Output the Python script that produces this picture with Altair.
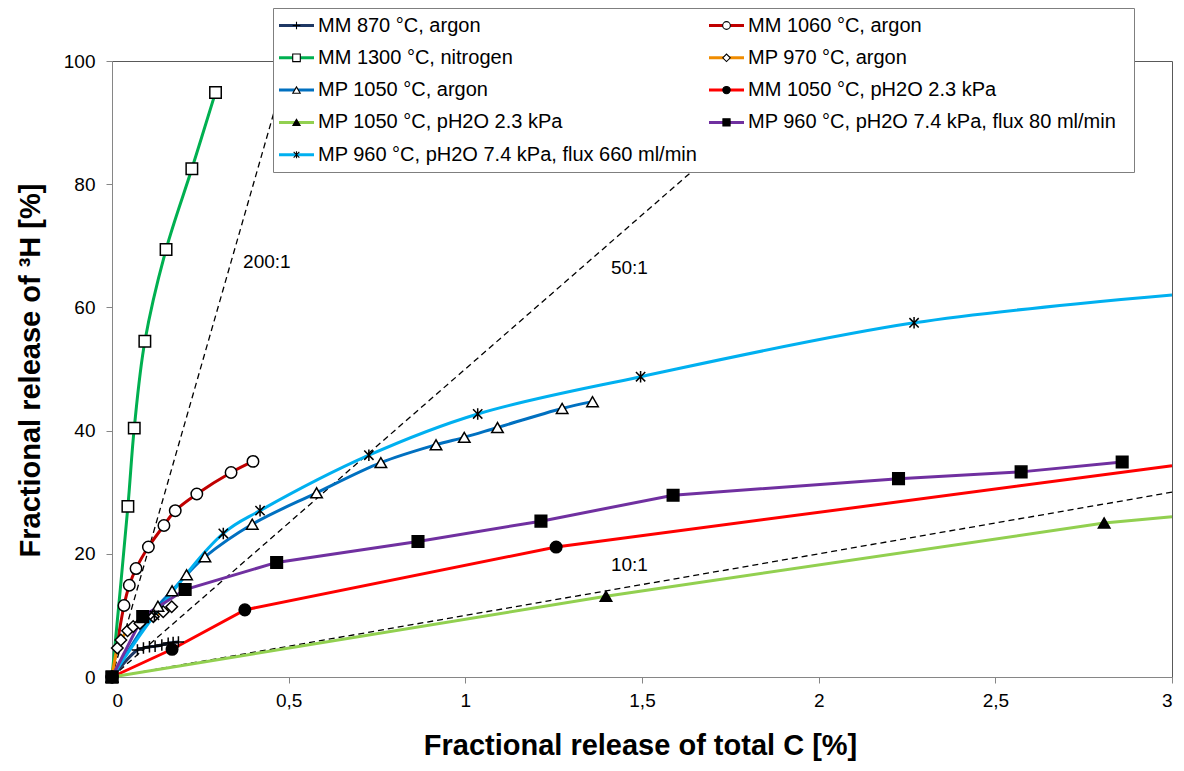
import altair as alt
import pandas as pd

# ---------------- data ----------------
series_names = [
    "MM 870 °C, argon",
    "MM 1060 °C, argon",
    "MM 1300 °C, nitrogen",
    "MP 970 °C, argon",
    "MP 1050 °C, argon",
    "MM 1050 °C, pH2O 2.3 kPa",
    "MP 1050 °C, pH2O 2.3 kPa",
    "MP 960 °C, pH2O 7.4 kPa, flux 80 ml/min",
    "MP 960 °C, pH2O 7.4 kPa, flux 660 ml/min",
]
series_colors = ["#1F3864", "#C00000", "#00B050", "#F08C00", "#0070C0",
                 "#FF0000", "#92D050", "#7030A0", "#00B0F0"]
# series drawn with straight segments (the others are smoothed)
straight_series = [5, 6, 7]

PLUS = "M-1,0H1M0,-1V1"
STAR = "M0,-1V1M-0.8,-0.8L0.8,0.8M-0.8,0.8L0.8,-0.8"
marker_shapes = [PLUS, "circle", "square", "diamond", "triangle-up",
                 "circle", "triangle-up", "square", STAR]
marker_fills = ["transparent", "white", "white", "white", "white",
                "black", "black", "black", "transparent"]
marker_sizes = [130, 135, 140, 95, 150, 170, 170, 180, 200]
legend_marker_sizes = [60, 50, 50, 40, 55, 60, 70, 65, 80]

mm870_x = [0, 0.072, 0.089, 0.106, 0.122, 0.141, 0.159, 0.173, 0.188]
mm870_y = [0, 4.4, 4.7, 4.9, 5.0, 5.2, 5.5, 5.6, 5.7]

mm1060_x = [0, 0.034, 0.049, 0.068, 0.103, 0.147, 0.179, 0.240, 0.337, 0.399]
mm1060_y = [0, 11.6, 14.9, 17.6, 21.1, 24.6, 27.0, 29.7, 33.2, 35.0]

mm1300_x = [0, 0.045, 0.063, 0.093, 0.153, 0.226, 0.293]
mm1300_y = [0, 27.7, 40.4, 54.5, 69.4, 82.5, 94.9]

mp970_x = [0, 0.015, 0.025, 0.044, 0.060, 0.079, 0.117, 0.145, 0.169]
mp970_y = [0, 4.7, 6.0, 7.5, 8.2, 8.7, 9.8, 10.6, 11.4]

mp1050_x = [0, 0.13, 0.17, 0.211, 0.263, 0.397, 0.579, 0.761, 0.917, 0.997,
            1.091, 1.274, 1.360]
mp1050_y = [0, 11.5, 14.0, 16.6, 19.5, 24.8, 29.9, 34.8, 37.7, 38.9,
            40.5, 43.6, 44.7]

mm1050w_x = [0, 0.170, 0.376, 1.257]
mm1050w_y = [0, 4.5, 10.9, 21.1]

mp1050w_x = [0, 1.398, 2.808]
mp1050w_y = [0, 13.1, 25.0]

mp960a_x = [0, 0.087, 0.207, 0.466, 0.866, 1.214, 1.588, 2.226, 2.573, 2.859]
mp960a_y = [0, 9.8, 14.2, 18.6, 22.0, 25.3, 29.5, 32.2, 33.3, 34.9]

mp960b_x = [0, 0.12, 0.315, 0.419, 0.727, 1.035, 1.496, 2.270]
mp960b_y = [0, 10.0, 23.3, 27.0, 36.0, 42.7, 48.75, 57.5]

series_x = [mm870_x, mm1060_x, mm1300_x, mp970_x, mp1050_x,
            mm1050w_x, mp1050w_x, mp960a_x, mp960b_x]
series_y = [mm870_y, mm1060_y, mm1300_y, mp970_y, mp1050_y,
            mm1050w_y, mp1050w_y, mp960a_y, mp960b_y]

# where three lines leave the plot at its right border (no marker there)
line_end_series = [5, 6, 8]
line_end_x = [3.0, 3.0, 3.0]
line_end_y = [34.3, 26.0, 62.0]

# dashed ratio guide lines
ratio_labels = ["200:1", "50:1", "10:1"]
ratio_end_x = [0.5, 2.0, 3.0]
ratio_end_y = [100, 100, 30]
ratio_label_x = [0.371, 1.412, 1.412]
ratio_label_y = [67.4, 66.4, 18.2]

x_ticks = [0, 0.5, 1, 1.5, 2, 2.5, 3]
y_ticks = [0, 20, 40, 60, 80, 100]

# ---------------- tables ----------------
pt_rows = []
for i, name in enumerate(series_names):
    for j, (xv, yv) in enumerate(zip(series_x[i], series_y[i])):
        pt_rows.append({"series": name, "x": xv, "y": yv, "k": j,
                        "straight": i in straight_series})
points_df = pd.DataFrame(pt_rows)

line_rows = list(pt_rows)
for s, xv, yv in zip(line_end_series, line_end_x, line_end_y):
    line_rows.append({"series": series_names[s], "x": xv, "y": yv, "k": 99,
                      "straight": s in straight_series})
lines_df = pd.DataFrame(line_rows)

ratio_rows = []
for lab, ex, ey in zip(ratio_labels, ratio_end_x, ratio_end_y):
    ratio_rows.append({"ratio": lab, "x": 0.0, "y": 0.0})
    ratio_rows.append({"ratio": lab, "x": ex, "y": ey})
ratio_df = pd.DataFrame(ratio_rows)
ratio_text_df = pd.DataFrame({"label": ratio_labels, "x": ratio_label_x,
                              "y": ratio_label_y})

legend_df = pd.DataFrame({
    "series": series_names,
    "idx": list(range(len(series_names))),
})

FONT = "Liberation Sans"

color_scale = alt.Scale(domain=series_names, range=series_colors)
shape_scale = alt.Scale(domain=series_names, range=marker_shapes)
fill_scale = alt.Scale(domain=series_names, range=marker_fills)
size_scale = alt.Scale(domain=series_names, range=marker_sizes)
lsize_scale = alt.Scale(domain=series_names, range=legend_marker_sizes)

xs = alt.Scale(domain=[0, 3], nice=False, zero=False)
ys = alt.Scale(domain=[0, 100], nice=False, zero=False)

x_axis = alt.Axis(
    values=x_ticks, labelExpr="replace(toString(datum.value), '.', ',')",
    title="Fractional release of total C [%]", grid=False,
    titleX=528, titleY=68, titleBaseline="middle", titleAlign="center")
y_axis = alt.Axis(
    values=y_ticks, title="Fractional release of ³H [%]", grid=False,
    titleX=-82, titleY=309, titleAngle=-90, titleBaseline="middle",
    titleAlign="center", labelPadding=11)
x_enc = alt.X("x:Q", scale=xs, axis=x_axis)
y_enc = alt.Y("y:Q", scale=ys, axis=y_axis)

ratio_lines = alt.Chart(ratio_df).mark_line(
    color="black", strokeWidth=1.3, strokeDash=[6, 4]
).encode(x=x_enc, y=y_enc, detail="ratio:N")

ratio_text = alt.Chart(ratio_text_df).mark_text(
    align="left", baseline="middle", fontSize=19, font=FONT, color="black"
).encode(x=x_enc, y=y_enc, text="label:N")

line_enc = dict(
    x=x_enc, y=y_enc,
    color=alt.Color("series:N", scale=color_scale, legend=None),
    detail="series:N",
    order="k:Q",
)
lines_smooth = alt.Chart(lines_df).transform_filter(
    "!datum.straight").mark_line(
    strokeWidth=3, interpolate="catmull-rom").encode(**line_enc)
lines_straight = alt.Chart(lines_df).transform_filter(
    "datum.straight").mark_line(
    strokeWidth=3, interpolate="linear").encode(**line_enc)

markers = alt.Chart(points_df).mark_point(
    filled=True, stroke="black", strokeWidth=1.5, opacity=1
).encode(
    x=x_enc, y=y_enc,
    shape=alt.Shape("series:N", scale=shape_scale, legend=None),
    fill=alt.Fill("series:N", scale=fill_scale, legend=None),
    size=alt.Size("series:N", scale=size_scale, legend=None),
)

main = alt.layer(ratio_lines, lines_smooth, lines_straight, markers, ratio_text)

# ---------------- legend (drawn in a pixel space of its own) ----------------
lxs = alt.Scale(domain=[0, 1060], nice=False, zero=False)
lys = alt.Scale(domain=[616, 0], nice=False, zero=False)

leg_base = alt.Chart(legend_df).transform_calculate(
    col="datum.idx % 2",
    row="floor(datum.idx / 2)",
).transform_calculate(
    lx0="167 + datum.col * 430",
    ly="-35.5 + datum.row * 32.3",
).transform_calculate(
    lx1="datum.lx0 + 35",
    mx="datum.lx0 + 17.5",
    tx="datum.lx0 + 39",
)

legend_box = alt.Chart(pd.DataFrame({"a": [0]})).mark_rect(
    fill="white", stroke="#7F7F7F", strokeWidth=1
).encode(x=alt.value(161.5), x2=alt.value(1022.5),
         y=alt.value(-52.5), y2=alt.value(111.5))

leg_lines = leg_base.mark_rule(strokeWidth=3).encode(
    x=alt.X("lx0:Q", scale=lxs, axis=None), x2="lx1:Q",
    y=alt.Y("ly:Q", scale=lys, axis=None),
    color=alt.Color("series:N", scale=color_scale, legend=None),
)
leg_marks = leg_base.mark_point(
    filled=True, stroke="black", strokeWidth=1.1, opacity=1
).encode(
    x=alt.X("mx:Q", scale=lxs, axis=None),
    y=alt.Y("ly:Q", scale=lys, axis=None),
    shape=alt.Shape("series:N", scale=shape_scale, legend=None),
    fill=alt.Fill("series:N", scale=fill_scale, legend=None),
    size=alt.Size("series:N", scale=lsize_scale, legend=None),
)
leg_text = leg_base.mark_text(
    align="left", baseline="middle", fontSize=20, font=FONT, color="black"
).encode(
    x=alt.X("tx:Q", scale=lxs, axis=None),
    y=alt.Y("ly:Q", scale=lys, axis=None),
    text="series:N",
)

legend = alt.layer(legend_box, leg_lines, leg_marks, leg_text)

chart = alt.layer(main, legend).resolve_scale(
    x="independent", y="independent", size="independent"
).properties(
    width=1060, height=616,
    padding={"left": 104, "top": 53, "right": 4, "bottom": 86},
    autosize=alt.AutoSizeParams(type="none"),
    background="white",
).configure_view(
    stroke="#595959", strokeWidth=1
).configure_axis(
    domainColor="#868686", tickColor="#868686", tickSize=6,
    domainWidth=1, tickWidth=1,
    labelFont=FONT, labelFontSize=19, labelColor="black",
    titleFont=FONT, titleFontSize=29, titleFontWeight="bold", titleColor="black",
    labelPadding=8,
)

chart.save("out.html", embed_options={"renderer": "svg", "actions": False})
